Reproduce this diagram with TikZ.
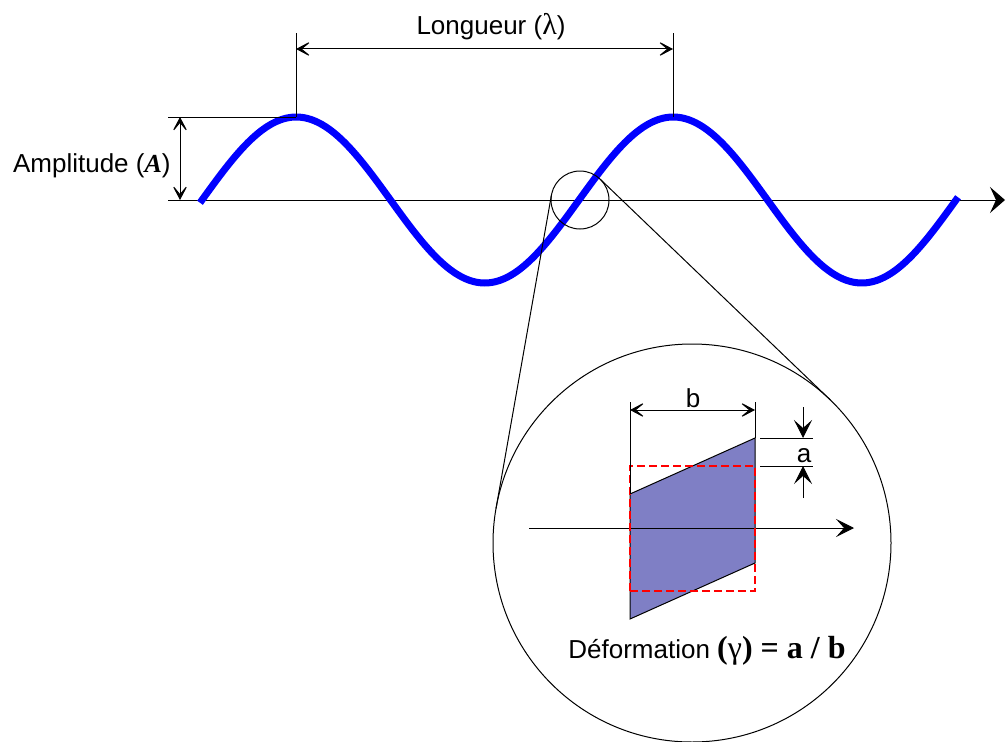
\documentclass[tikz,border=0pt]{standalone}
\usepackage{fontspec}
\setmainfont{Liberation Sans}
\newfontfamily\seriffont{Liberation Serif}
\usetikzlibrary{arrows.meta}
\definecolor{defofill}{RGB}{127,127,197}
\begin{document}
\begin{tikzpicture}[x=5pt, y=5pt, font=\fontsize{13}{15}\selectfont,
  fin/.style={line width=0.5pt},
  cote/.style={fin, {Stealth[length=8.5pt,width=9pt,inset=5.5pt]}-{Stealth[length=8.5pt,width=9pt,inset=5.5pt]}},
  fleche/.style={fin, -{Stealth[length=9pt,width=9pt,inset=4pt]}},
  onde/.style={blue, line width=3.5pt},
  loupe/.style={circle, draw, fin, inner sep=0pt, outer sep=0pt}]
\useasboundingbox (0,0) rectangle (100.6,74.1);
% Axe et onde
\coordinate (axeG) at (16.8,54.1); \coordinate (axeD) at (100.5,54.1);
\draw[fin, -{Stealth[length=7.5pt,width=13pt,inset=3pt]}] (axeG) -- (axeD);
\draw[onde] plot[domain=20.0:95.8, samples=150, smooth] (\x, {54.1+8.3*sin((\x-20.2)/37.7*360)});
% Amplitude
\coordinate (crete1) at (29.6,62.4); \coordinate (crete2) at (67.3,62.4);
\coordinate (ampH) at (16.8,62.4);
\draw[fin] (ampH) -- (crete1);
\draw[cote] (18.0,62.4) -- (18.0,54.1);
\node[anchor=base east, inner sep=0pt] (ampl) at (17.1,56.9) {Amplitude ({\seriffont\bfseries\itshape A})};
% Longueur
\coordinate (long1) at (29.6,70.8); \coordinate (long2) at (67.3,70.8);
\draw[fin] (crete1) -- (long1); \draw[fin] (crete2) -- (long2);
\draw[cote] (29.6,69.2) -- (67.3,69.2);
\node[anchor=base] (longueur) at (49.1,70.6) {Longueur ({\seriffont\fontsize{15}{17}\selectfont λ})};
% Loupe
\node[loupe, minimum size=29pt] (petit) at (58.0,54.1) {};
\node[loupe, minimum size=199pt] (grand) at (69.2,19.8) {};
\draw[fin] (petit.46) -- (grand.46);
\draw[fin] (petit.170) -- (grand.170);
% Element deforme
\coordinate (pHG) at (63.0,24.7); \coordinate (pHD) at (75.5,30.3);
\coordinate (pBD) at (75.5,17.8); \coordinate (pBG) at (63.0,12.2);
\filldraw[defofill, draw=black, fin] (pHG) -- (pHD) -- (pBD) -- (pBG) -- cycle;
\coordinate (axe2G) at (52.9,21.3); \coordinate (axe2D) at (85.4,21.3);
\draw[fleche] (axe2G) -- (axe2D);
\draw[red, line width=1pt, dash pattern=on 4pt off 2pt] (63.0,15.0) rectangle (75.5,27.5);
% Cote b
\coordinate (b1) at (63.0,33.9); \coordinate (b2) at (75.5,33.9);
\draw[fin] (pHG) -- (b1); \draw[fin] (pHD) -- (b2);
\draw[cote] (63.0,33.1) -- (75.5,33.1);
\node[anchor=base] (b) at (69.3,33.4) {b};
% Cote a
\coordinate (a1) at (81.3,30.3); \coordinate (a2) at (81.3,27.5);
\draw[fin] (76.0,30.3) -- (a1); \draw[fin] (76.0,27.5) -- (a2);
\draw[fleche] (80.3,33.4) -- (80.3,30.3);
\draw[fleche] (80.3,24.3) -- (80.3,27.5);
\node[anchor=base] (a) at (80.4,27.9) {a};
% Legende
\node[anchor=base] (defo) at (70.7,8.3) {Déformation {\seriffont\fontsize{16}{18}\selectfont\bfseries ({\mdseries γ}) = a / b}};
\end{tikzpicture}
\end{document}
